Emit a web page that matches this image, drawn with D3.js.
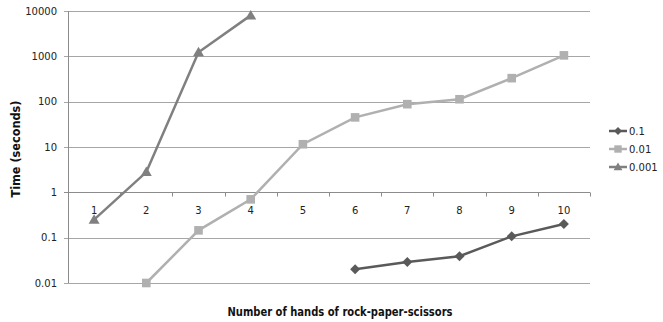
<!DOCTYPE html>
<html><head><meta charset="utf-8">
<script src="https://cdn.jsdelivr.net/npm/d3@7"></script>
<style>body{margin:0;background:#fff}svg{display:block}text{font-family:"DejaVu Sans",Verdana,sans-serif}</style>
</head><body>
<script>
const categories = ["1","2","3","4","5","6","7","8","9","10"];
const seriesNames = ["0.1","0.01","0.001"];
const s01 = [null,null,null,null,null,0.02,0.029,0.039,0.107,0.2];
const s001 = [null,0.01,0.145,0.7,11.5,45,88,113,330,1050];
const s0001 = [0.25,2.8,1230,8000,null,null,null,null,null,null];
const yTicks = [0.01,0.1,1,10,100,1000,10000];
const yTickLabels = ["0.01","0.1","1","10","100","1000","10000"];
const colors = ["#5a5a5a","#b0b0b0","#808080"];

const W=663,H=322;
const svg=d3.select("body").append("svg").attr("width",W).attr("height",H);
const x=d3.scaleBand().domain(categories).range([68,590]);
const y=d3.scaleLog().domain([0.01,10000]).range([283,11]);

function marker(i,s){
  if(i===0){return `M0,${-s}L${s},0L0,${s}L${-s},0Z`;}
  if(i===1){return `M${-s},${-s}H${s}V${s}H${-s}Z`;}
  return `M0,${-s*1.1}L${s*1.1},${s*0.8}L${-s*1.1},${s*0.8}Z`;
}

// gridlines
svg.append("g").selectAll("line").data(yTicks).join("line")
 .attr("x1",64).attr("x2",590).attr("y1",d=>Math.round(y(d))+0.5).attr("y2",d=>Math.round(y(d))+0.5)
 .attr("stroke",d=>d===1?"#8c8c8c":"#a6a6a6").attr("stroke-width",1);
// y axis line
svg.append("line").attr("x1",68.5).attr("x2",68.5).attr("y1",11).attr("y2",283).attr("stroke","#8c8c8c");
// y labels
svg.append("g").selectAll("text").data(yTicks).join("text")
 .attr("x",57).attr("y",d=>y(d)).attr("dy","0.35em").attr("text-anchor","end")
 .attr("font-size",10).attr("fill","#222").text((d,i)=>yTickLabels[i]);
// x axis ticks at y=1
const y1=Math.round(y(1))+0.5;
const bounds=categories.map(c=>x(c)).concat([x.range()[1]]);
svg.append("g").selectAll("line").data(bounds).join("line")
 .attr("x1",d=>Math.round(d)+0.5).attr("x2",d=>Math.round(d)+0.5).attr("y1",y1).attr("y2",y1+4).attr("stroke","#8c8c8c");
svg.append("g").selectAll("text").data(categories).join("text")
 .attr("x",d=>x(d)+x.bandwidth()/2).attr("y",y1+21).attr("text-anchor","middle")
 .attr("font-size",10).attr("fill","#222").text(d=>d);

// series
const allSeries=[s01,s001,s0001];
allSeries.forEach((vals,i)=>{
  const pts=vals.map((v,j)=>({c:categories[j],v})).filter(p=>p.v!=null);
  const line=d3.line().x(p=>x(p.c)+x.bandwidth()/2).y(p=>y(p.v));
  svg.append("path").attr("d",line(pts)).attr("fill","none").attr("stroke",colors[i]).attr("stroke-width",2.5);
  const sz=[5,4.3,5][i];
  svg.append("g").selectAll("path").data(pts).join("path")
   .attr("transform",p=>`translate(${x(p.c)+x.bandwidth()/2},${y(p.v)})`)
   .attr("d",marker(i,sz)).attr("fill",colors[i]);
});

// axis titles
svg.append("text").attr("transform","translate(20,149) rotate(-90)").attr("text-anchor","middle")
 .attr("font-family","Lato, sans-serif").attr("font-size",12.5).attr("font-weight","bold").attr("fill","#111")
 .attr("textLength",97).attr("lengthAdjust","spacingAndGlyphs").text("Time (seconds)");
svg.append("text").attr("x",340).attr("y",316).attr("text-anchor","middle")
 .attr("font-family","Lato, sans-serif").attr("font-size",12).attr("font-weight","bold").attr("fill","#111")
 .attr("textLength",225).attr("lengthAdjust","spacingAndGlyphs").text("Number of hands of rock-paper-scissors");

// legend
const lg=svg.append("g");
seriesNames.forEach((n,i)=>{
  const ly=131+i*18;
  lg.append("line").attr("x1",609).attr("x2",627).attr("y1",ly).attr("y2",ly).attr("stroke",colors[i]).attr("stroke-width",2.5);
  lg.append("path").attr("transform",`translate(618,${ly})`).attr("d",marker(i,[4,3.7,4][i])).attr("fill",colors[i]);
  lg.append("text").attr("x",629).attr("y",ly).attr("dy","0.35em").attr("font-size",10).attr("fill","#222").text(n);
});
</script>
</body></html>
